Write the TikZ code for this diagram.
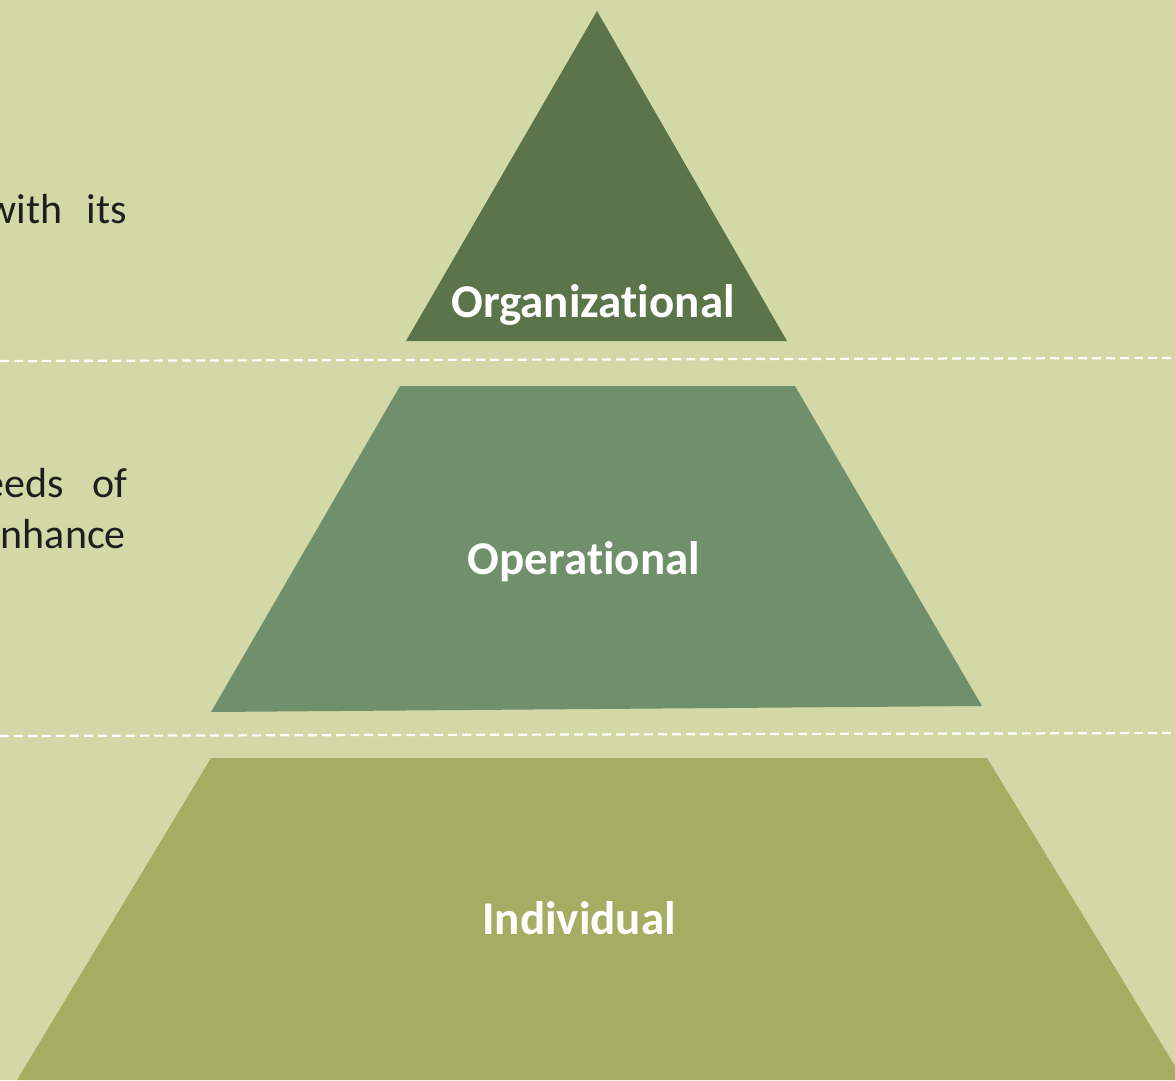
\documentclass[tikz,border=0pt]{standalone}
\usepackage{fontspec}
\setmainfont[Ligatures=NoCommon]{Carlito}
\usepackage{tikz}
\usetikzlibrary{positioning}

\definecolor{bgolive}{HTML}{D3D9A6}
\definecolor{toplevel}{HTML}{5C7449}
\definecolor{midlevel}{HTML}{708F6B}
\definecolor{lowlevel}{HTML}{A4AD62}
\definecolor{notetext}{HTML}{1E1E1E}

\begin{document}
\begin{tikzpicture}[
x=1pt, y=-1pt,
font=\fontsize{42}{51}\selectfont,
level/.style={anchor=base, text=white, font=\bfseries\fontsize{47}{56}\selectfont},
note/.style={anchor=base east, text=notetext, inner sep=0pt},
divider/.style={draw=white, line width=2.2pt, dash pattern=on 9pt off 5pt}
]
    % Background
    \fill [draw=none, fill=bgolive] (0, 0) rectangle (1175, 1080);
    \useasboundingbox (0, 0) rectangle (1175, 1080);

    \draw
  	(597, 11) coordinate (T)
  	(406, 341) coordinate (TL)
  	(787, 341) coordinate (TR)
  	(400, 386) coordinate (ML)
  	(795, 386) coordinate (MR)
  	(211, 712) coordinate (MBL)
  	(982, 706) coordinate (MBR)
  	(211, 758) coordinate (BL)
  	(987, 758) coordinate (BR)
  	(17, 1080) coordinate (BBL)
  	(1175, 1066) coordinate (BBR)
  	(1175, 1080) coordinate (BBC);

    % Three levels
  	\fill [draw=none, fill=toplevel] (T) -- (TR) -- (TL) -- cycle;
  	\fill [draw=none, fill=midlevel] (ML) -- (MR) -- (MBR) -- (MBL) -- cycle;
  	\fill [draw=none, fill=lowlevel] (BL) -- (BR) -- (BBR) -- (BBC) -- (BBL) -- cycle;

    % Dashed separators
    \coordinate (s1a) at (0, 361);
    \coordinate (s1b) at (1175, 358);
    \coordinate (s2a) at (0, 736);
    \coordinate (s2b) at (1175, 733);
  	\draw[divider] (s1a) -- (s1b);
  	\draw[divider] (s2a) -- (s2b);

    % Level names
  	\node[level] (org) at (593, 317) {Organizational};
  	\node[level] (ops) at (584, 574) {Operational};
  	\node[level] (ind) at (579, 934) {Individual};

    % Side notes
  	\node[note] (n1) at (127, 223) {with\hspace{24pt}its};
  	\node[note] (n2) at (128, 497) {eeds\hspace{29pt}of};
  	\node[note] (n3) at (126, 548) {nhance};

\end{tikzpicture}
\end{document}
